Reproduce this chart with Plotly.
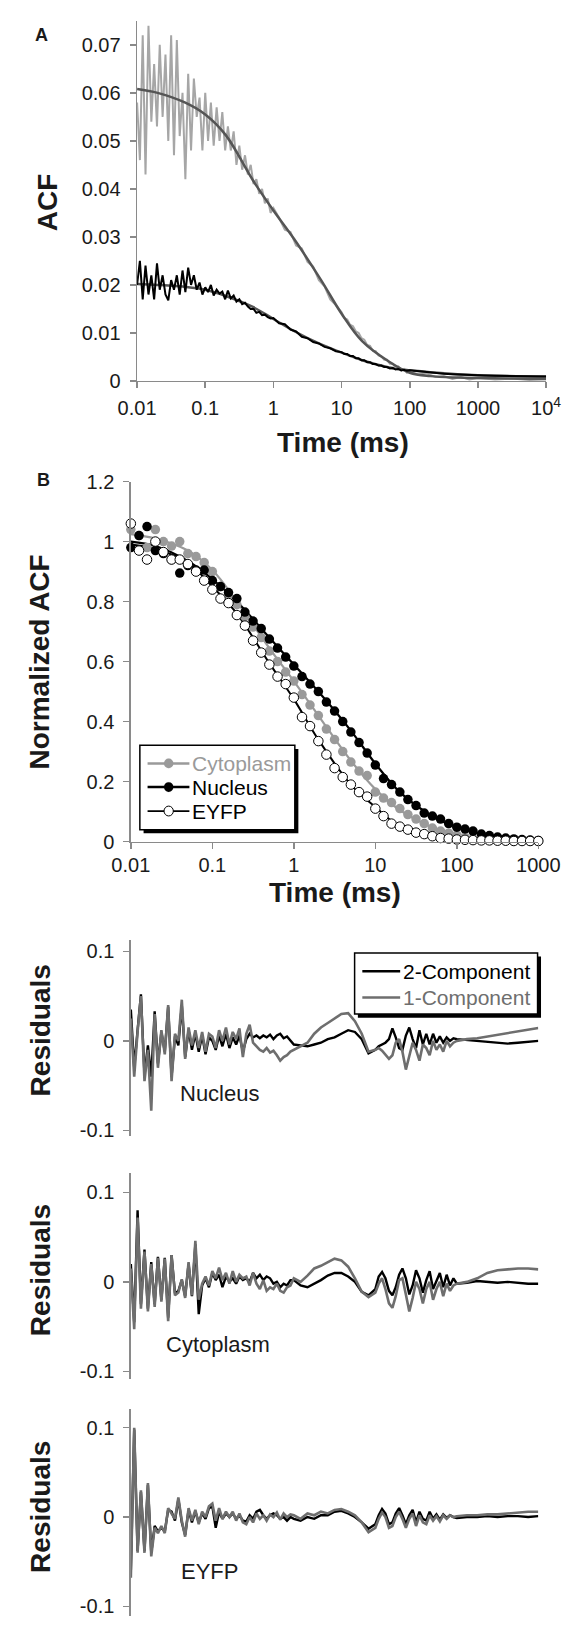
import plotly.graph_objects as go

# ---------------- data ----------------
# lag-time grid (ms) shared by panel A data and residuals
t_lag = [0.0100, 0.0110, 0.0121, 0.0133, 0.0147, 0.0162, 0.0178, 0.0196, 0.0215, 0.0237, 0.0261, 0.0287,
         0.0316, 0.0348, 0.0383, 0.0422, 0.0464, 0.0511, 0.0562, 0.0619, 0.0681, 0.0750, 0.0825, 0.0909,
         0.100, 0.110, 0.121, 0.133, 0.147, 0.162, 0.178, 0.196, 0.215, 0.237, 0.261, 0.287,
         0.316, 0.348, 0.383, 0.422, 0.464, 0.511, 0.562, 0.619, 0.681, 0.750, 0.825, 0.909,
         1.00, 1.21, 1.47, 1.78, 2.15, 2.61, 3.16, 3.83, 4.64, 5.62, 6.81, 8.25,
         10.0, 11.0, 12.1, 13.3, 14.7, 16.2, 17.8, 19.6, 21.5, 23.7, 26.1, 28.7,
         31.6, 34.8, 38.3, 42.2, 46.4, 51.1, 56.2, 61.9, 68.1, 75.0, 82.5, 90.9,
         100, 133, 178, 237, 316, 422, 562, 750,
         1000, 1780, 3160, 5620, 10000]

# Panel A: raw ACF
acf_cyto = [0.058, 0.046, 0.072, 0.043, 0.074, 0.054, 0.066, 0.053, 0.070, 0.055, 0.068, 0.050,
            0.072, 0.047, 0.071, 0.051, 0.060, 0.042, 0.064, 0.048, 0.063, 0.055, 0.059, 0.048,
            0.060, 0.050, 0.058, 0.049, 0.057, 0.050, 0.056, 0.048, 0.053, 0.048, 0.052, 0.045,
            0.049, 0.044, 0.047, 0.043, 0.045, 0.041, 0.042, 0.039, 0.040, 0.037, 0.038, 0.035,
            0.0360, 0.0340, 0.0315, 0.0310, 0.0282, 0.0276, 0.0248, 0.0238, 0.0210, 0.0197, 0.0170, 0.0158,
            0.0143, 0.0131, 0.0128, 0.0117, 0.0114, 0.0103, 0.0100, 0.0089, 0.0086, 0.0075, 0.0073, 0.0063,
            0.0062, 0.0053, 0.0051, 0.0044, 0.0044, 0.0036, 0.0036, 0.0028, 0.0030, 0.0022, 0.0025, 0.0017,
            0.0020, 0.0013, 0.0016, 0.0008, 0.0010, 0.0004, 0.0008, 0.0003,
            0.0006, 0.0003, 0.0005, 0.0002, 0.0004]
acf_nuc = [0.020, 0.025, 0.017, 0.024, 0.018, 0.022, 0.017, 0.0245, 0.019, 0.022, 0.018, 0.0168,
           0.021, 0.019, 0.022, 0.018, 0.023, 0.0185, 0.0236, 0.020, 0.022, 0.019, 0.0205, 0.018,
           0.0195, 0.0185, 0.0200, 0.0178, 0.0190, 0.0182, 0.0186, 0.0170, 0.0188, 0.0172, 0.0178, 0.0165,
           0.0170, 0.0160, 0.0163, 0.0155, 0.0150, 0.0150, 0.0142, 0.0144, 0.0137, 0.0138, 0.0133, 0.0130,
           0.0131, 0.0120, 0.0118, 0.0107, 0.0103, 0.0092, 0.0089, 0.0081, 0.0078, 0.0071, 0.0068, 0.0062,
           0.0060, 0.0056, 0.0056, 0.0052, 0.0052, 0.0047, 0.0047, 0.0043, 0.0043, 0.0039, 0.0039, 0.0035,
           0.0035, 0.0032, 0.0032, 0.0029, 0.0029, 0.0026, 0.0027, 0.0024, 0.0025, 0.0022, 0.0023, 0.0021,
           0.0022, 0.0020, 0.0018, 0.0017, 0.0015, 0.0014, 0.0013, 0.0012,
           0.0012, 0.0011, 0.0010, 0.0010, 0.0009]

# Panel A: fits
t_fit_A = [0.01, 0.02, 0.05, 0.1, 0.2, 0.5, 1, 2, 5, 10, 20, 50, 100, 200, 500, 1000, 10000]
fit_cyto_A = [0.0608, 0.0600, 0.0580, 0.0555, 0.0512, 0.0418, 0.0355, 0.0296, 0.0210, 0.0140, 0.0083,
              0.0040, 0.0017, 0.0010, 0.0007, 0.0006, 0.0004]
fit_nuc_A = [0.0202, 0.0200, 0.0196, 0.0190, 0.0177, 0.0154, 0.0129, 0.0104, 0.0076, 0.0059, 0.0043,
             0.0028, 0.0022, 0.0018, 0.0014, 0.0012, 0.0009]

# Panel B: normalized ACF
t_B = [0.01, 0.0126, 0.0158, 0.02, 0.0251, 0.0316, 0.0398, 0.0501, 0.0631, 0.0794,
       0.1, 0.126, 0.158, 0.2, 0.251, 0.316, 0.398, 0.501, 0.631, 0.794,
       1, 1.26, 1.58, 2, 2.51, 3.16, 3.98, 5.01, 6.31, 7.94,
       10, 12.6, 15.8, 20, 25.1, 31.6, 39.8, 50.1, 63.1, 79.4,
       100, 126, 158, 200, 251, 316, 398, 501, 631, 794, 1000]
cyto_B = [1.04, 1.02, 0.98, 1.04, 1.0, 0.985, 1.0, 0.96, 0.95, 0.93,
          0.90, 0.85, 0.82, 0.79, 0.75, 0.715, 0.68, 0.635, 0.60, 0.565,
          0.535, 0.49, 0.455, 0.42, 0.375, 0.34, 0.30, 0.265, 0.235, 0.22,
          0.165, 0.145, 0.13, 0.11, 0.09, 0.075, 0.06, 0.045, 0.035, 0.028,
          0.022, 0.015, 0.009, 0.007, 0.005, 0.004, 0.003, 0.002, 0.002, 0.001, 0.001]
nuc_B = [0.98, 1.02, 1.05, 0.97, 0.96, 0.94, 0.895, 0.92, 0.905, 0.905,
         0.87, 0.85, 0.83, 0.81, 0.765, 0.735, 0.71, 0.675, 0.645, 0.615,
         0.585, 0.55, 0.525, 0.50, 0.465, 0.435, 0.40, 0.365, 0.33, 0.295,
         0.255, 0.21, 0.19, 0.165, 0.14, 0.12, 0.095, 0.085, 0.075, 0.06,
         0.048, 0.042, 0.035, 0.025, 0.02, 0.015, 0.012, 0.009, 0.007, 0.005, 0.004]
eyfp_B = [1.06, 0.97, 0.94, 1.0, 0.965, 0.94, 0.94, 0.925, 0.90, 0.87,
          0.84, 0.81, 0.795, 0.755, 0.72, 0.67, 0.63, 0.59, 0.55, 0.525,
          0.48, 0.415, 0.385, 0.335, 0.29, 0.245, 0.215, 0.19, 0.165, 0.15,
          0.11, 0.085, 0.06, 0.05, 0.04, 0.03, 0.025, 0.018, 0.012, 0.01,
          0.007, 0.006, 0.005, 0.004, 0.004, 0.003, 0.003, 0.002, 0.002, 0.002, 0.002]
t_fit_B = [0.01, 0.02, 0.05, 0.1, 0.2, 0.5, 1, 2, 5, 10, 20, 50, 100, 200, 500, 1000]
fit_cyto_B = [1.025, 1.01, 0.97, 0.905, 0.80, 0.645, 0.535, 0.42, 0.27, 0.175, 0.105, 0.048, 0.022, 0.009, 0.003, 0.001]
fit_nuc_B = [1.0, 0.985, 0.935, 0.875, 0.80, 0.68, 0.59, 0.50, 0.37, 0.26, 0.165, 0.085, 0.048, 0.025, 0.009, 0.004]
fit_eyfp_B = [0.99, 0.975, 0.93, 0.85, 0.76, 0.595, 0.475, 0.34, 0.19, 0.115, 0.05, 0.018, 0.007, 0.004, 0.002, 0.002]

# Residuals (lag times t_lag up to 1000 ms)
res_nuc_2c = [0.035, -0.030, 0.012, 0.052, -0.038, -0.005, -0.040, 0.033, -0.025, 0.010, -0.012, 0.038,
              -0.040, 0.005, -0.005, 0.040, -0.018, 0.012, -0.010, 0.008, -0.012, 0.006, -0.015, 0.004,
              0.000, -0.010, 0.006, -0.006, 0.008, -0.008, 0.004, -0.004, 0.006, -0.012, 0.002, 0.008,
              0.004, 0.006, 0.003, 0.006, 0.004, 0.007, 0.002, 0.006, 0.008, 0.003, 0.005, 0.000,
              -0.004, -0.005, -0.006, -0.004, -0.002, 0.002, 0.004, 0.008, 0.012, 0.010, 0.002, -0.014,
              -0.010, -0.006, -0.004, -0.002, 0.002, 0.014, 0.004, -0.008, -0.010, 0.006, 0.015, 0.002,
              -0.008, 0.012, -0.004, 0.008, -0.004, 0.008, -0.002, 0.005, -0.002, 0.004, 0.000, 0.003,
              0.002, 0.001, 0.000, -0.001, -0.002, -0.003, -0.002, -0.001, 0.000]
res_nuc_1c = [0.025, -0.040, 0.010, 0.050, -0.045, -0.010, -0.078, 0.030, -0.030, 0.012, -0.015, 0.040,
              -0.045, 0.008, 0.000, 0.046, -0.020, 0.015, -0.005, 0.012, -0.008, 0.010, -0.012, 0.008,
              0.005, -0.008, 0.012, 0.000, 0.015, -0.004, 0.010, 0.002, 0.014, -0.018, 0.008, 0.018,
              -0.002, -0.006, -0.010, -0.012, -0.008, -0.013, -0.011, -0.016, -0.022, -0.018, -0.016, -0.012,
              -0.010, -0.006, -0.002, 0.008, 0.015, 0.020, 0.025, 0.030, 0.031, 0.022, 0.008, -0.012,
              -0.010, -0.008, -0.011, -0.015, -0.020, -0.016, -0.002, 0.002, -0.012, -0.032, -0.018, -0.002,
              -0.010, -0.022, -0.004, -0.008, -0.016, 0.000, -0.010, -0.004, -0.012, 0.000, -0.006, -0.002,
              0.000, 0.002, 0.003, 0.005, 0.007, 0.009, 0.011, 0.013, 0.0145]
res_cyto_2c = [0.020, -0.045, 0.080, -0.025, 0.036, -0.030, 0.022, -0.025, 0.028, -0.020, 0.027, -0.040,
               0.030, -0.013, -0.010, 0.002, -0.016, 0.020, -0.016, 0.042, -0.036, -0.004, 0.004, -0.006,
               0.010, 0.002, 0.008, -0.006, 0.006, 0.000, 0.004, -0.002, 0.006, 0.002, 0.004, 0.000,
               0.010, 0.004, 0.008, 0.002, 0.006, 0.004, -0.002, 0.000, -0.006, -0.002, -0.004, 0.002,
               0.002, -0.004, -0.006, -0.002, 0.002, 0.007, 0.010, 0.010, 0.006, 0.000, -0.011, -0.015,
               -0.008, 0.006, 0.011, 0.004, -0.010, -0.015, -0.006, 0.008, 0.015, 0.004, -0.014, -0.004,
               0.013, 0.004, -0.012, 0.002, 0.012, -0.008, 0.002, 0.010, -0.006, 0.008, -0.004, 0.004,
               -0.002, -0.001, 0.001, 0.000, -0.001, 0.000, -0.001, -0.002, -0.002]
res_cyto_1c = [0.015, -0.053, 0.072, -0.030, 0.034, -0.033, 0.020, -0.028, 0.027, -0.022, 0.026, -0.044,
               0.030, -0.015, -0.012, 0.003, -0.018, 0.022, -0.015, 0.046, -0.020, -0.002, 0.006, -0.004,
               0.012, 0.004, 0.016, 0.002, 0.010, -0.002, 0.012, 0.000, 0.008, 0.004, 0.006, -0.004,
               0.010, -0.002, -0.008, 0.002, -0.010, -0.006, -0.008, -0.002, -0.010, -0.012, -0.006, -0.004,
               0.004, 0.000, 0.007, 0.015, 0.018, 0.022, 0.026, 0.024, 0.017, 0.004, -0.011, -0.017,
               -0.012, -0.002, 0.004, -0.008, -0.024, -0.029, -0.016, 0.002, 0.004, -0.014, -0.033, -0.018,
               0.000, -0.008, -0.024, -0.008, 0.000, -0.020, -0.008, 0.000, -0.016, -0.002, -0.010, -0.004,
               -0.002, 0.000, 0.004, 0.010, 0.013, 0.014, 0.015, 0.015, 0.014]
res_eyfp_2c = [-0.060, 0.098, -0.038, 0.028, -0.038, 0.036, -0.040, -0.010, -0.016, -0.012, -0.016, 0.008,
               0.006, -0.004, 0.020, -0.006, -0.020, 0.008, -0.006, 0.006, -0.006, 0.004, -0.002, 0.010,
               0.012, -0.012, 0.006, -0.002, 0.004, 0.000, 0.004, -0.002, 0.002, -0.004, -0.005, 0.002,
               -0.002, 0.006, 0.008, 0.002, -0.002, 0.002, 0.004, 0.002, -0.002, 0.000, -0.004, 0.000,
               -0.002, -0.004, 0.000, -0.002, 0.002, 0.002, 0.006, 0.007, 0.004, 0.000, -0.006, -0.013,
               -0.008, 0.002, 0.009, 0.004, -0.008, -0.006, 0.004, 0.010, 0.002, -0.008, 0.002, 0.008,
               -0.006, 0.006, -0.002, -0.004, 0.006, -0.002, 0.003, -0.003, 0.003, -0.001, 0.002, 0.000,
               -0.001, 0.000, 0.000, 0.001, 0.000, 0.001, 0.001, 0.000, 0.001]
res_eyfp_1c = [-0.068, 0.100, -0.040, 0.030, -0.040, 0.038, -0.044, -0.012, -0.018, -0.010, -0.018, 0.010,
               0.004, -0.002, 0.022, -0.004, -0.022, 0.010, -0.004, 0.008, -0.008, 0.006, 0.000, 0.012,
               0.015, -0.004, 0.010, -0.002, 0.006, 0.000, 0.006, -0.004, 0.004, -0.006, -0.008, 0.000,
               -0.006, 0.004, -0.002, 0.002, -0.004, 0.003, 0.000, 0.005, -0.003, 0.004, 0.000, 0.003,
               0.002, -0.002, 0.004, 0.002, 0.006, 0.004, 0.008, 0.009, 0.006, 0.002, -0.006, -0.017,
               -0.012, -0.002, 0.005, 0.000, -0.012, -0.010, 0.000, 0.006, -0.002, -0.012, -0.002, 0.004,
               -0.010, 0.002, -0.006, -0.008, 0.002, -0.004, 0.001, -0.005, 0.002, -0.002, 0.002, 0.000,
               0.001, 0.002, 0.002, 0.003, 0.003, 0.004, 0.005, 0.006, 0.006]

# tick labels
ticks_A_x = [0.01, 0.1, 1, 10, 100, 1000, 10000]
ticktext_A_x = ["0.01", "0.1", "1", "10", "100", "1000", "10<sup>4</sup>"]
ticks_A_y = [0, 0.01, 0.02, 0.03, 0.04, 0.05, 0.06, 0.07]
ticktext_A_y = ["0", "0.01", "0.02", "0.03", "0.04", "0.05", "0.06", "0.07"]
ticks_B_x = [0.01, 0.1, 1, 10, 100, 1000]
ticktext_B_x = ["0.01", "0.1", "1", "10", "100", "1000"]
ticks_B_y = [0, 0.2, 0.4, 0.6, 0.8, 1.0, 1.2]
ticktext_B_y = ["0", "0.2", "0.4", "0.6", "0.8", "1", "1.2"]
ticks_R_y = [-0.1, 0, 0.1]
ticktext_R_y = ["-0.1", "0", "0.1"]

# ---------------- figure ----------------
W, H = 583, 1627
FONT = "Liberation Sans, Arial, Helvetica, sans-serif"
AX = "#8a8a8a"
GRAY_A = "#a6a6a6"
FIT_A = "#555555"
GRAY_B = "#9a9a9a"
GRAY_R = "#6e6e6e"


def fx(px):
    return px / W


def fy(py):
    return 1 - py / H


n_res = len(res_nuc_2c)
t_res = t_lag[:n_res]

fig = go.Figure()

# Panel A
fig.add_trace(go.Scatter(x=t_fit_A, y=fit_nuc_A, mode="lines", line=dict(color=FIT_A, width=2.5, shape="spline"),
                         xaxis="x", yaxis="y", showlegend=False))
fig.add_trace(go.Scatter(x=t_lag, y=acf_cyto, mode="lines", line=dict(color=GRAY_A, width=2),
                         xaxis="x", yaxis="y", showlegend=False))
fig.add_trace(go.Scatter(x=t_fit_A, y=fit_cyto_A, mode="lines", line=dict(color=FIT_A, width=2.5, shape="spline"),
                         xaxis="x", yaxis="y", showlegend=False))
fig.add_trace(go.Scatter(x=t_lag, y=acf_nuc, mode="lines", line=dict(color="#000000", width=2),
                         xaxis="x", yaxis="y", showlegend=False))

# Panel B
fig.add_trace(go.Scatter(x=t_fit_B, y=fit_cyto_B, mode="lines", line=dict(color=GRAY_B, width=2.2, shape="spline"),
                         xaxis="x2", yaxis="y2", showlegend=False))
fig.add_trace(go.Scatter(x=t_fit_B, y=fit_eyfp_B, mode="lines", line=dict(color="#000000", width=2, shape="spline"),
                         xaxis="x2", yaxis="y2", showlegend=False))
fig.add_trace(go.Scatter(x=t_fit_B, y=fit_nuc_B, mode="lines", line=dict(color="#000000", width=2.2, shape="spline"),
                         xaxis="x2", yaxis="y2", showlegend=False))
fig.add_trace(go.Scatter(x=t_B, y=cyto_B, mode="markers", cliponaxis=False,
                         marker=dict(size=9.5, color=GRAY_B, line=dict(width=0)),
                         xaxis="x2", yaxis="y2", showlegend=False))
fig.add_trace(go.Scatter(x=t_B, y=nuc_B, mode="markers", cliponaxis=False,
                         marker=dict(size=9.5, color="#000000", line=dict(width=0)),
                         xaxis="x2", yaxis="y2", showlegend=False))
fig.add_trace(go.Scatter(x=t_B, y=eyfp_B, mode="markers", cliponaxis=False,
                         marker=dict(size=9.5, color="white", line=dict(width=1, color="#000000")),
                         xaxis="x2", yaxis="y2", showlegend=False))

# Residual panels
for k, (r2, r1) in enumerate([(res_nuc_2c, res_nuc_1c), (res_cyto_2c, res_cyto_1c), (res_eyfp_2c, res_eyfp_1c)]):
    xa, ya = "x%d" % (k + 3), "y%d" % (k + 3)
    fig.add_trace(go.Scatter(x=t_res, y=r2, mode="lines", line=dict(color="#000000", width=2.4),
                             xaxis=xa, yaxis=ya, showlegend=False))
    fig.add_trace(go.Scatter(x=t_res, y=r1, mode="lines", line=dict(color=GRAY_R, width=2.6),
                             xaxis=xa, yaxis=ya, showlegend=False))

axis_common = dict(showline=True, linecolor=AX, linewidth=1.5, ticks="outside", ticklen=6, tickwidth=1.5,
                   tickcolor=AX, showgrid=False, zeroline=False,
                   tickfont=dict(family=FONT, size=20, color="#1a1a1a"))
ystand = dict(ticklabelstandoff=5)

xdom_B = [fx(120.3), fx(558.6)]
layout = dict(
    width=W, height=H, autosize=False,
    margin=dict(l=0, r=0, t=0, b=0, pad=0),
    paper_bgcolor="white", plot_bgcolor="white",
    font=dict(family=FONT, color="#1a1a1a"),
    xaxis=dict(axis_common, ticklabelstandoff=3, domain=[fx(127), fx(567)], anchor="y", type="log",
               range=[-2, 4], tickvals=ticks_A_x, ticktext=ticktext_A_x),
    yaxis=dict(axis_common, **ystand, domain=[fy(375), fy(10)], anchor="x", range=[0, 0.075],
               tickvals=ticks_A_y, ticktext=ticktext_A_y),
    xaxis2=dict(axis_common, ticklabelstandoff=-1, domain=xdom_B, anchor="y2", type="log", range=[-2, 3],
                tickvals=ticks_B_x, ticktext=ticktext_B_x),
    yaxis2=dict(axis_common, **ystand, domain=[fy(842), fy(477)], anchor="x2", range=[0, 1.2],
                tickvals=ticks_B_y, ticktext=ticktext_B_y),
    xaxis3=dict(domain=xdom_B, anchor="y3", type="log", range=[-2, 3], visible=False),
    yaxis3=dict(axis_common, **ystand, domain=[fy(1140), fy(941.7)], anchor="x3", range=[-0.1057, 0.1127],
                tickvals=ticks_R_y, ticktext=ticktext_R_y),
    xaxis4=dict(domain=xdom_B, anchor="y4", type="log", range=[-2, 3], visible=False),
    yaxis4=dict(axis_common, **ystand, domain=[fy(1386.7), fy(1178.3)], anchor="x4", range=[-0.1085, 0.1213],
                tickvals=ticks_R_y, ticktext=ticktext_R_y),
    xaxis5=dict(domain=xdom_B, anchor="y5", type="log", range=[-2, 3], visible=False),
    yaxis5=dict(axis_common, **ystand, domain=[0, fy(1416.7)], anchor="x5", range=[-0.1107, 0.1214],
                tickvals=ticks_R_y, ticktext=ticktext_R_y),
)
fig.update_layout(**layout)

annotations = []


def note(text, x, y, size, bold=False, angle=0, color="#1a1a1a", xanchor="center"):
    annotations.append(dict(text=("<b>%s</b>" % text) if bold else text, x=fx(x), y=fy(y),
                            xref="paper", yref="paper", xanchor=xanchor, yanchor="middle",
                            showarrow=False, textangle=angle,
                            font=dict(family=FONT, size=size, color=color)))


note("A", 24, 24, 18, bold=True)
note("B", 26, 475, 18, bold=True)
note("ACF", 31, 194, 28, bold=True, angle=-90)
note("Time (ms)", 348, 437, 28, bold=True)
note("Normalized ACF", 22, 660, 28, bold=True, angle=-90)
note("Time (ms)", 340, 894, 28, bold=True)
note("Residuals", 23, 1033, 28, bold=True, angle=-90)
note("Residuals", 23, 1276, 28, bold=True, angle=-90)
note("Residuals", 23, 1516, 28, bold=True, angle=-90)
note("Nucleus", 216, 1097, 22)
note("Cytoplasm", 214, 1352, 22)
note("EYFP", 205, 1582, 22)

shapes = []


def rect(x0, y0, x1, y1, fill, line_color=None, lw=0):
    shapes.append(dict(type="rect", xref="paper", yref="paper", x0=fx(x0), x1=fx(x1), y0=fy(y1), y1=fy(y0),
                       fillcolor=fill, line=dict(color=line_color or fill, width=lw), layer="above"))


def seg(x0, x1, y, color, lw):
    shapes.append(dict(type="line", xref="paper", yref="paper", x0=fx(x0), x1=fx(x1), y0=fy(y), y1=fy(y),
                       line=dict(color=color, width=lw), layer="above"))


def dot(cx, cy, r, fill, line_color, lw):
    shapes.append(dict(type="circle", xref="paper", yref="paper", x0=fx(cx - r), x1=fx(cx + r),
                       y0=fy(cy + r), y1=fy(cy - r), fillcolor=fill,
                       line=dict(color=line_color, width=lw), layer="above"))


# Legend of panel B
rect(134, 748, 300.5, 833.5, "#000000")
rect(130, 744.3, 296.7, 830, "white", "#000000", 1.5)
legB = [("Cytoplasm", GRAY_B, GRAY_B, GRAY_B, 2.5, 0, 762.7),
        ("Nucleus", "#000000", "#000000", "#000000", 2.5, 0, 786.7),
        ("EYFP", "#000000", "white", "#000000", 1.8, 1, 811.0)]
for name, lc, fill, tc, lw, mlw, yy in legB:
    seg(138.3, 183.3, yy, lc, lw)
    dot(161, yy, 5, fill, "#000000" if mlw else fill, mlw if mlw else 0.1)
    note(name, 184, yy, 21, color=tc, xanchor="left")

# Legend of residuals
rect(364.5, 958.5, 561.5, 1020.5, "#000000")
rect(361, 955, 557.8, 1016.7, "white", "#000000", 1.5)
seg(369.3, 410, 973.3, "#000000", 2.5)
seg(369.3, 410, 1000, GRAY_R, 2.5)
note("2-Component", 410.5, 973.3, 21, color="#000000", xanchor="left")
note("1-Component", 410.5, 1000, 21, color=GRAY_R, xanchor="left")

fig.update_layout(annotations=annotations, shapes=shapes)
fig.write_html("out.html", config={"displayModeBar": False, "staticPlot": True},
               post_script="document.body.style.margin='0px';document.body.style.overflow='hidden';")
